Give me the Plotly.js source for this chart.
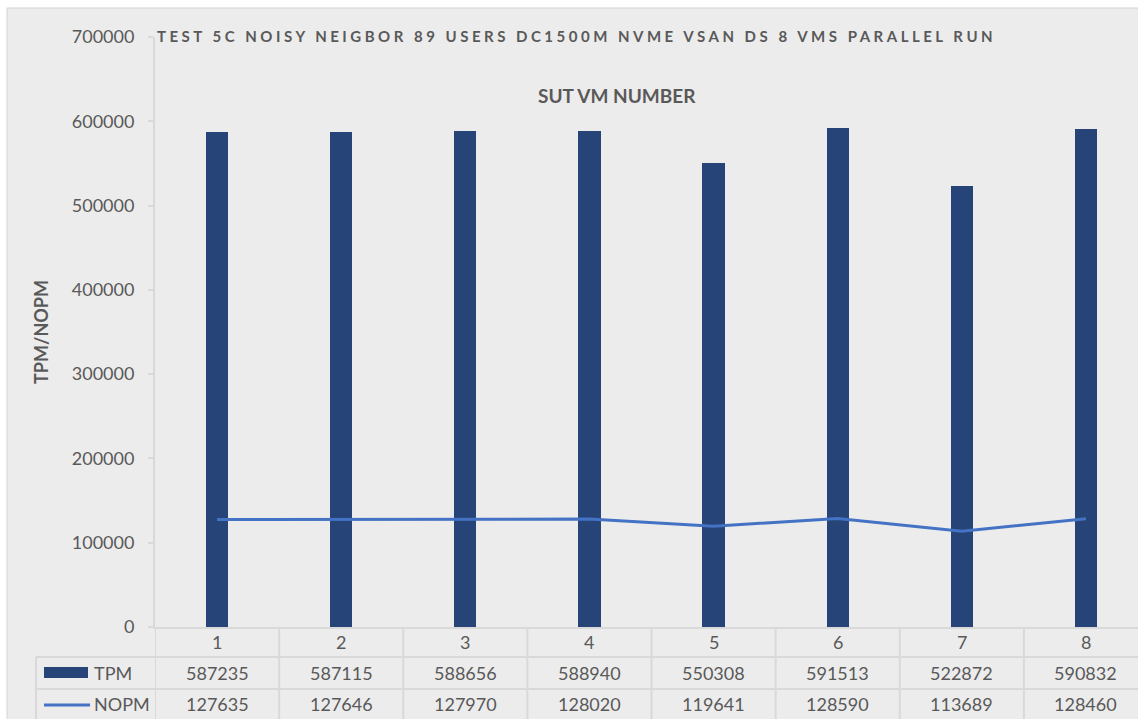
<!DOCTYPE html>
<html>
<head>
<meta charset="utf-8">
<script src="https://cdn.plot.ly/plotly-3.0.1.min.js"></script>
<style>
  html, body { margin: 0; padding: 0; background: #ffffff; overflow: hidden; }
  #chart { position: absolute; left: 0; top: 0; width: 1160px; height: 719px; }
  .gtitle { letter-spacing: 3.5px; }
</style>
</head>
<body>
<div id="chart"></div>
<script>
// ---- data ----
const vmNumbers = [1, 2, 3, 4, 5, 6, 7, 8];
const categoryLabels = ['1', '2', '3', '4', '5', '6', '7', '8'];
const tpm = [587235, 587115, 588656, 588940, 550308, 591513, 522872, 590832];
const nopm = [127635, 127646, 127970, 128020, 119641, 128590, 113689, 128460];
const seriesNames = ['TPM', 'NOPM'];
const yTickValues = [0, 100000, 200000, 300000, 400000, 500000, 600000, 700000];
const chartTitle = 'TEST 5C NOISY NEIGBOR 89 USERS DC1500M NVME VSAN DS 8 VMS PARALLEL RUN';
const xTitle = 'SUT VM NUMBER';
const yTitle = 'TPM/NOPM';

// ---- layout geometry ----
const W = 1160, H = 719;
const L = 155, T = 37, B = 92;
const plotW = 993;
const R = W - L - plotW;
const plotH = H - T - B;
const px = x => (x - L) / plotW;       // pixel -> paper x
const py = y => (H - B - y) / plotH;   // pixel -> paper y

const textColor = '#595959';
const gridColor = '#D9D9D9';
const barColor = '#264478';
const lineColor = '#4472C4';
const font = 'Lato, "Open Sans", sans-serif';

const traces = [
  {
    type: 'bar', name: seriesNames[0], x: vmNumbers, y: tpm,
    width: 0.18, marker: { color: barColor }, hoverinfo: 'skip'
  },
  {
    type: 'scatter', mode: 'lines', name: seriesNames[1], x: vmNumbers, y: nopm,
    line: { color: lineColor, width: 3 }, hoverinfo: 'skip'
  }
];

const shapes = [];
// gray chart-area background with border
shapes.push({ type: 'rect', layer: 'below', xref: 'paper', yref: 'paper',
  x0: px(7), x1: px(1200), y0: py(8), y1: py(760),
  fillcolor: '#ECECEC', line: { color: '#D4D4D4', width: 1 } });
// table horizontal lines
[657, 689].forEach(yy => shapes.push({ type: 'line', xref: 'paper', yref: 'paper',
  x0: px(36), x1: px(1200), y0: py(yy), y1: py(yy), line: { color: gridColor, width: 2 } }));
// table vertical lines (category boundaries)
for (let k = 0; k <= vmNumbers.length; k++) {
  shapes.push({ type: 'line', xref: 'x', yref: 'paper',
    x0: vmNumbers[0] - 0.5 + k, x1: vmNumbers[0] - 0.5 + k, y0: 0, y1: py(760),
    line: { color: gridColor, width: 2 } });
}
// table left border
shapes.push({ type: 'line', xref: 'paper', yref: 'paper',
  x0: px(36), x1: px(36), y0: py(657), y1: py(760), line: { color: gridColor, width: 2 } });
// legend keys
shapes.push({ type: 'rect', xref: 'paper', yref: 'paper',
  x0: px(44), x1: px(88), y0: py(667), y1: py(678), fillcolor: barColor, line: { width: 0 } });
shapes.push({ type: 'line', xref: 'paper', yref: 'paper',
  x0: px(44), x1: px(90), y0: py(705), y1: py(705), line: { color: lineColor, width: 3 } });

const annotations = [];
const cellFont = { family: font, size: 18, color: textColor };
vmNumbers.forEach((v, i) => {
  annotations.push({ xref: 'x', yref: 'paper', x: v, y: py(642), text: categoryLabels[i],
    showarrow: false, font: cellFont, xanchor: 'center', yanchor: 'middle' });
  annotations.push({ xref: 'x', yref: 'paper', x: v, y: py(673), text: String(tpm[i]),
    showarrow: false, font: cellFont, xanchor: 'center', yanchor: 'middle' });
  annotations.push({ xref: 'x', yref: 'paper', x: v, y: py(704), text: String(nopm[i]),
    showarrow: false, font: cellFont, xanchor: 'center', yanchor: 'middle' });
});
annotations.push({ xref: 'paper', yref: 'paper', x: px(92), y: py(673), text: seriesNames[0],
  showarrow: false, font: cellFont, xanchor: 'left', yanchor: 'middle' });
annotations.push({ xref: 'paper', yref: 'paper', x: px(92), y: py(704), text: seriesNames[1],
  showarrow: false, font: cellFont, xanchor: 'left', yanchor: 'middle' });
// x-axis title placed at top like the original
annotations.push({ xref: 'paper', yref: 'paper', x: px(616.5), y: py(95), text: '<b>' + xTitle + '</b>',
  showarrow: false, font: { family: font, size: 19, color: textColor }, xanchor: 'center', yanchor: 'middle' });

const layout = {
  width: W, height: H,
  margin: { l: L, r: R, t: T, b: B, pad: 0 },
  paper_bgcolor: '#ffffff',
  plot_bgcolor: 'rgba(0,0,0,0)',
  showlegend: false,
  title: {
    text: '<b>' + chartTitle + '</b>',
    xref: 'container', yref: 'container',
    x: 157 / W, xanchor: 'left', y: 1 - 37 / H, yanchor: 'middle',
    font: { family: font, size: 15, color: textColor }
  },
  xaxis: {
    range: [0.5, 8.5], showgrid: false, zeroline: false,
    showline: true, linecolor: gridColor, linewidth: 2,
    showticklabels: false, ticks: ''
  },
  yaxis: {
    range: [0, 700000], tickvals: yTickValues, ticktext: yTickValues.map(String),
    showgrid: false, zeroline: false, showline: true, linecolor: gridColor, linewidth: 2,
    ticks: 'outside', ticklen: 5, tickcolor: gridColor, tickwidth: 2,
    ticklabelstandoff: 10,
    tickfont: { family: font, size: 18, color: textColor },
    title: { text: '<b>' + yTitle + '</b>', font: { family: font, size: 18, color: textColor }, standoff: 18 }
  },
  shapes: shapes,
  annotations: annotations,
  bargap: 0
};

Plotly.newPlot('chart', traces, layout, { staticPlot: true, displayModeBar: false });
</script>
</body>
</html>
